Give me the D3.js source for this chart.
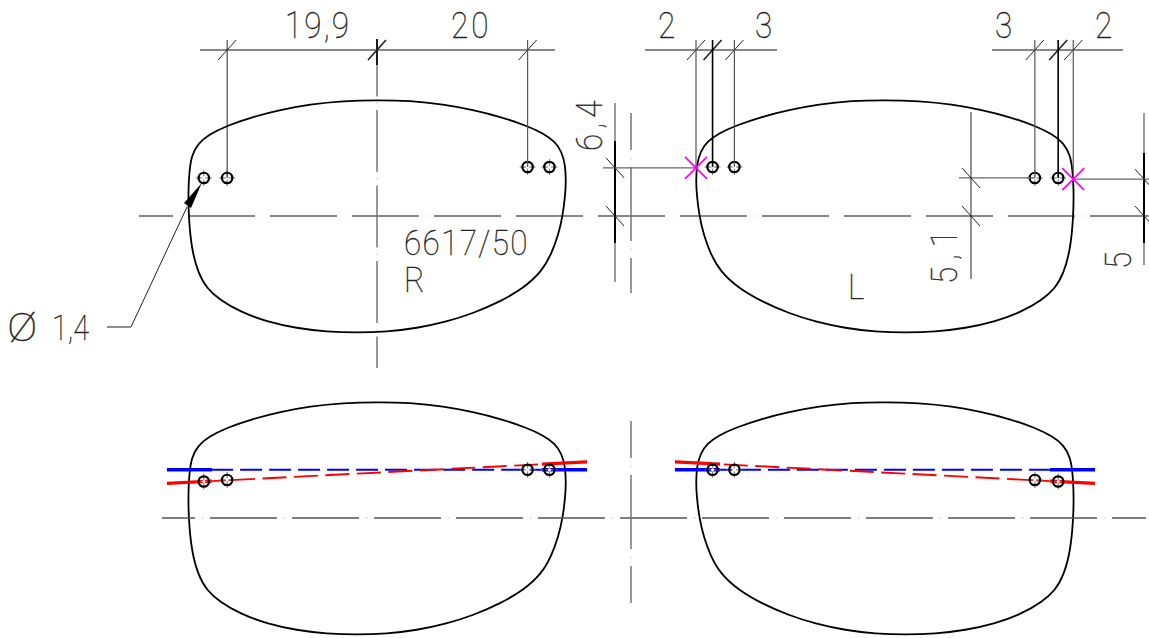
<!DOCTYPE html>
<html>
<head>
  <meta charset="utf-8">
  <title>6617/50</title>
  <script src="https://cdn.jsdelivr.net/npm/d3@7"></script>
  <style>
    html, body { margin: 0; padding: 0; background: #fff; }
    svg { display: block; }
    text { font-family: Roboto, "Liberation Sans", sans-serif; font-weight: 100; fill: #222; stroke: #222; stroke-width: 0.35; }
  </style>
</head>
<body>
<div id="drawing"></div>
<script type="text/javascript">
// lens outline in mm from the centre (right lens, the left one is its mirror)
var lensX = [0, -4.5, -8.9, -12.88, -16.43, -19.96, -22.4, -23.73, -24.61, -24.93, -25.06, -25.03, -24.61, -23.73, -22.62, -20.85, -18.19, -14.65, -10.66, -6.68, -2.7, 1.29, 5.27, 9.26, 12.79, 16.33, 19.43, 21.87, 23.2, 24.08, 24.66, 25.0, 25.1, 25.0, 24.53, 23.64, 22.09, 19.88, 16.33, 12.79, 8.82, 4.38];
var lensY = [15.4, 15.27, 14.83, 14.08, 13.19, 11.99, 10.76, 9.65, 8.1, 5.88, 3.45, 0, -4.52, -7.61, -9.6, -11.16, -12.71, -14.04, -14.91, -15.37, -15.5, -15.37, -14.91, -14.04, -12.92, -11.38, -9.6, -7.4, -4.95, -2.52, 0, 2.79, 4.7, 6.77, 8.54, 9.87, 10.98, 11.99, 13.19, 14.08, 14.83, 15.31];

// drill holes
var holeX = [-23, -19.9, 20, 22.9];
var holeY = [5.05, 5.05, 6.5, 6.5];
var holeYLower = [4.85, 5.05, 6.4, 6.4];

// bevel lines on the lower views
var bevelX = [-27.9, -21.9, 21.9, 27.9];
var blueY = [6.4, 6.4, 6.4, 6.4];
var redY = [4.6, 4.9, 7.15, 7.45];

// dimension texts
var widthLabels = ["19,9", "20"];
var leftLabels = ["2", "3"];
var rightLabels = ["3", "2"];
var heightLabels = ["6,4", "5,1", "5"];
var holeLabels = ["\u00d8", "1,4"];
var partLabels = ["6617/50", "R", "L"];
var markX = [-25.1, 25];
var markY = [6.4, 4.9];

var width = 1149, height = 638, mm = 7.53;

var xR = d3.scaleLinear().domain([-25, 25]).range([377 - 25 * mm, 377 + 25 * mm]);
var xL = d3.scaleLinear().domain([-25, 25]).range([885 - 25 * mm, 885 + 25 * mm]);
var yUp = d3.scaleLinear().domain([-15, 15]).range([216 + 15 * mm, 216 - 15 * mm]);
var yLow = d3.scaleLinear().domain([-15, 15]).range([518 + 15 * mm, 518 - 15 * mm]);

var svg = d3.select("#drawing").append("svg")
  .attr("width", width)
  .attr("height", height);

function seg(x1, y1, x2, y2, w, color, dash, offset) {
  var l = svg.append("line")
    .attr("x1", x1).attr("y1", y1)
    .attr("x2", x2).attr("y2", y2)
    .attr("stroke", color || "#000")
    .attr("stroke-width", w || 1);
  if (dash) l.attr("stroke-dasharray", dash).attr("stroke-dashoffset", offset || 0);
  return l;
}

function label(txt, x, y, size, rot, sx, ls) {
  svg.append("text")
    .attr("transform", "translate(" + x + "," + y + ") rotate(" + (rot || 0) + ") scale(" + (sx || 0.85) + ",1)")
    .attr("font-size", size)
    .attr("letter-spacing", ls || 0)
    .text(txt);
}

// slash across a dimension line
function tick(x, y, dir, w) {
  seg(x - 9, y + dir * 10, x + 9, y - dir * 10, w || 1, "#222");
}

// lens outlines
var outline = d3.line().curve(d3.curveBasisClosed);
function lens(xs, ys, flip) {
  svg.append("path")
    .attr("d", outline(lensX.map(function(d, i) { return [xs(flip ? -d : d), ys(lensY[i])]; })))
    .attr("fill", "none")
    .attr("stroke", "#000")
    .attr("stroke-width", 1.8);
}
lens(xR, yUp, false);
lens(xL, yUp, true);
lens(xR, yLow, false);
lens(xL, yLow, true);

// centre lines, the dot in the gap is very faint
function centre(x1, y1, x2, y2, w, color, dash, gap, offset) {
  seg(x1, y1, x2, y2, w, color, dash + " " + gap, offset);
  seg(x1, y1, x2, y2, w, "#ddd", "2 " + (dash + gap - 2), offset - dash - gap / 2 + 1);
}
centre(139, yUp(0), 1149, yUp(0), 1.1, "#111", 67, 15, 33);
centre(162, yLow(0), 1146, yLow(0), 1.3, "#555", 67, 15, 34);
centre(377, 39, 377, 368, 1.5, "#777", 62, 13.5, 4.5);
seg(377, 39, 377, 65, 1.6, "#000");
centre(631, 113, 631, 293, 1.5, "#777", 74, 17, 37);
centre(631, 421, 631, 603, 1.5, "#777", 74, 17, 37);

// bevel lines lower views, red over blue
function bevel(xs, flip, ys, color) {
  var px = bevelX.map(function(d) { return xs(flip ? -d : d); });
  var py = ys.map(function(d) { return yLow(d); });
  seg(px[0], py[0], px[1], py[1], 3.4, color);
  seg(px[2], py[2], px[3], py[3], 3.4, color);
  var firstDash = color == "#f00" ? "43 7.5 24 7.5 24 7.5 24 7.5 24 7.5 24 7.5 24 7.5 24 7.5 24 7.5 24 7.5 24" : "21 7 22 7 22 7 22 7 22 7 22 7 22 7 22 7 22 7 22 7 22 7 22";
  seg(px[1], py[1], px[2], py[2], 1.9, color, firstDash);
}
bevel(xR, false, blueY, "#00f");
bevel(xR, false, redY, "#f00");
bevel(xL, true, blueY, "#00f");
bevel(xL, true, redY, "#f00");

// holes
function holes(xs, flip, ysc, ys) {
  holeX.forEach(function(d, i) {
    var cx = xs(flip ? -d : d), cy = ysc(ys[i]);
    seg(cx - 8, cy, cx + 8, cy, 1, "#777");
    seg(cx, cy - 8, cx, cy + 8, 1, "#777");
    svg.append("circle")
      .attr("cx", cx).attr("cy", cy).attr("r", 1.6)
      .attr("fill", "#fff");
    svg.append("circle")
      .attr("cx", cx).attr("cy", cy).attr("r", 5.2)
      .attr("fill", "none")
      .attr("stroke", "#000")
      .attr("stroke-width", 2.2);
  });
}
holes(xR, false, yUp, holeY);
holes(xL, true, yUp, holeY);
holes(xR, false, yLow, holeYLower);
holes(xL, true, yLow, holeYLower);

// top dimensions, right lens
var topY = 50;
seg(200, topY, 555, topY, 1.1, "#111");
tick(xR(holeX[1]), topY, 1);
tick(xR(0), topY, 1, 1.6);
tick(xR(holeX[2]), topY, 1);
seg(xR(holeX[1]), 40, xR(holeX[1]), yUp(holeY[1]), 1, "#222");
seg(xR(holeX[2]), 40, xR(holeX[2]), yUp(holeY[2]), 1.2, "#555");
label(widthLabels[0], 285, 38, 37, 0, 0.85, 2.5);
label(widthLabels[1], 451, 38, 37, 0, 0.85, 3.5);

// top dimensions, left lens
seg(645, topY, 777, topY, 1.1, "#111");
var lx = [xL(markX[0]), xL(-holeX[3]), xL(-holeX[2])];
lx.forEach(function(d, i) {
  tick(d, topY, 1, i == 1 ? 1.6 : 1);
  seg(d, 40, d, i == 0 ? yUp(markY[0]) : yUp(holeY[2]), i == 1 ? 1.6 : 1.2, i == 1 ? "#000" : "#555");
});
label(leftLabels[0], 658, 38, 37);
label(leftLabels[1], 755, 38, 37);

seg(992, topY, 1123, topY, 1.1, "#111");
var rx = [xL(-holeX[1]), xL(-holeX[0]), xL(markX[1])];
rx.forEach(function(d, i) {
  tick(d, topY, 1, i == 1 ? 1.6 : 1);
  seg(d, 40, d, i == 2 ? yUp(markY[1]) : yUp(holeY[0]), i == 1 ? 1.6 : 1.2, i == 1 ? "#000" : "#555");
});
label(rightLabels[0], 995, 38, 37);
label(rightLabels[1], 1095, 38, 37);

// side dimensions
seg(615, 103, 615, 282, 1.3, "#666");
seg(615, 141, 615, 243, 2, "#000");
seg(603, yUp(markY[0]), xL(markX[0]), yUp(markY[0]), 1.2, "#666");
tick(615, yUp(markY[0]), -1);
tick(615, yUp(0), -1);
label(heightLabels[0], 602, 151, 37, -90, 0.85, 6);

seg(971, 112, 971, 279, 1, "#222");
seg(959, yUp(holeY[0]), xL(-holeX[1]), yUp(holeY[0]), 1.2, "#666");
tick(971, yUp(holeY[0]), -1);
tick(971, yUp(0), -1);
label(heightLabels[1], 957, 284, 37, -90, 0.85, 8);

seg(1144, 113, 1144, 265, 1.3, "#666");
seg(1144, 153, 1144, 243, 2, "#000");
seg(xL(markX[1]), yUp(markY[1]), 1149, yUp(markY[1]), 1.2, "#666");
tick(1144, yUp(markY[1]), -1);
tick(1144, yUp(0), -1);
label(heightLabels[2], 1131, 269, 37, -90);

// magenta crosses where the edge is measured
markX.forEach(function(d, i) {
  var cx = xL(d), cy = yUp(markY[i]);
  seg(cx - 11, cy - 11, cx + 11, cy + 11, 1.8, "#f0f");
  seg(cx - 11, cy + 11, cx + 11, cy - 11, 1.8, "#f0f");
});

// leader for the hole diameter
var hx = xR(holeX[0]), hy = yUp(holeY[0]);
svg.append("path")
  .attr("d", d3.line()([[hx - 2, hy + 5], [184, 203], [191, 208]]))
  .attr("fill", "#000");
svg.append("path")
  .attr("d", d3.line()([[187, 207], [131, 327], [107, 327]]))
  .attr("fill", "none")
  .attr("stroke", "#222")
  .attr("stroke-width", 1);

label(holeLabels[0], 7, 341, 38, 0, 1.2);
label(holeLabels[1], 52, 340, 36, 0, 0.8);
label(partLabels[0], 404, 255, 35, 0, 0.9, 1.5);
label(partLabels[1], 404, 292, 35, 0, 0.9);
label(partLabels[2], 848, 299, 35, 0, 0.9);
</script>
</body>
</html>
